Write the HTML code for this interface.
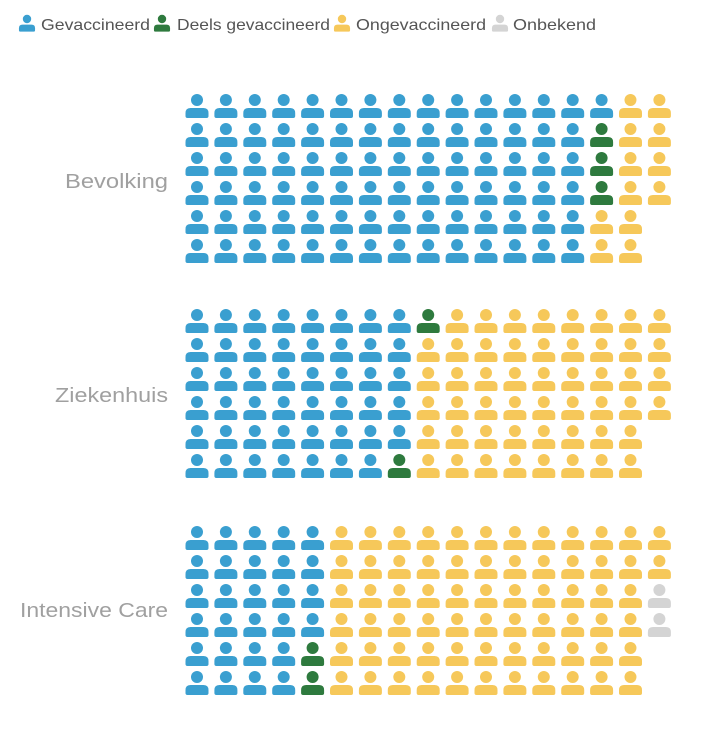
<!DOCTYPE html>
<html><head><meta charset="utf-8">
<style>
body{margin:0;background:#fff;width:720px;height:746px;overflow:hidden;font-family:"Liberation Sans",sans-serif;}
</style></head>
<body>
<svg id="s" width="720" height="746" xmlns="http://www.w3.org/2000/svg">
<g font-family="Liberation Sans, sans-serif" font-size="16" fill="#555">
<text x="41" y="30" textLength="109" lengthAdjust="spacingAndGlyphs">Gevaccineerd</text>
<text x="177" y="30" textLength="153" lengthAdjust="spacingAndGlyphs">Deels gevaccineerd</text>
<text x="356" y="30" textLength="130" lengthAdjust="spacingAndGlyphs">Ongevaccineerd</text>
<text x="513" y="30" textLength="83" lengthAdjust="spacingAndGlyphs">Onbekend</text>
</g>
<g font-family="Liberation Sans, sans-serif" font-size="20" fill="#a0a0a0">
<text x="65" y="188" textLength="103" lengthAdjust="spacingAndGlyphs">Bevolking</text>
<text x="55" y="402" textLength="113" lengthAdjust="spacingAndGlyphs">Ziekenhuis</text>
<text x="20" y="617" textLength="148" lengthAdjust="spacingAndGlyphs">Intensive Care</text>
</g>
<g id="icons"></g>
</svg>
<script>
var C={b:"#3a9fd0",g:"#2e7a3e",y:"#f6c85a",n:"#d4d4d4"};
var out="";
function icon(cx,hy,col,sc){sc=sc||1;
 var w=11.5*sc;
 out+='<circle cx="'+cx+'" cy="'+hy+'" r="'+(6*sc)+'" fill="'+col+'"/>';
 var t=hy+8*sc,b=hy+18*sc;
 out+='<path d="M'+(cx-w)+','+(b-2*sc)+' V'+(t+5*sc)+' Q'+(cx-w)+','+t+' '+(cx-w+5*sc)+','+t+' H'+(cx+w-5*sc)+' Q'+(cx+w)+','+t+' '+(cx+w)+','+(t+5*sc)+' V'+(b-2*sc)+' Q'+(cx+w)+','+b+' '+(cx+w-2*sc)+','+b+' H'+(cx-w+2*sc)+' Q'+(cx-w)+','+b+' '+(cx-w)+','+(b-2*sc)+' Z" fill="'+col+'"/>';
}
icon(27,19,C.b,0.7);icon(162,19,C.g,0.7);icon(342,19,C.y,0.7);icon(500,19,C.n,0.7);
function grid(y0,cols){
 for(var c=0;c<cols.length;c++){
  for(var r=0;r<cols[c].length;r++){
   icon(197+c*28.9,y0+r*29,C[cols[c][r]]);
  }
 }
}
function rep(s,n){var a=[];for(var i=0;i<n;i++)a.push(s);return a;}
grid(100,rep("bbbbbb",14).concat(["bgggyy","yyyyyy","yyyy"]));
grid(315,rep("bbbbbb",7).concat(["bbbbbg","gyyyyy"]).concat(rep("yyyyyy",7)).concat(["yyyy"]));
grid(532,rep("bbbbbb",4).concat(["bbbbgg"]).concat(rep("yyyyyy",11)).concat(["yynn"]));
document.getElementById("icons").innerHTML=out;
</script>
</body></html>
